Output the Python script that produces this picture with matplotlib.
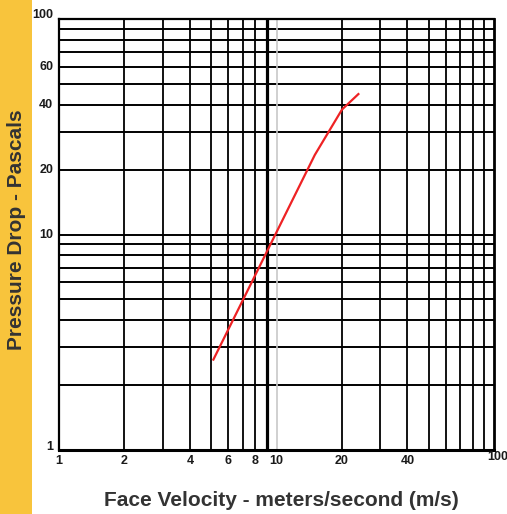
import matplotlib
matplotlib.use("Agg")
import matplotlib.pyplot as plt
from matplotlib.patches import Rectangle
import matplotlib.transforms as mtransforms

# Data
velocity = [5.1, 15.0, 20.0, 24.0]          # m/s
pressure = [2.6, 23.4, 38.0, 45.2]          # Pa

x_tick_vals = [1, 2, 4, 6, 8, 10, 20, 40, 100]
x_tick_labels = ["1", "2", "4", "6", "8", "10", "20", "40", "100"]
y_tick_vals = [1, 10, 20, 40, 60, 100]
y_tick_labels = ["1", "10", "20", "40", "60", "100"]

plt.rcParams['font.family'] = ['Liberation Sans', 'DejaVu Sans']

W, H = 507, 514
fig = plt.figure(figsize=(W / 100, H / 100), dpi=100)
fig.patch.set_facecolor('white')

# yellow side strip
fig.patches.append(Rectangle((0, 0), 32 / W, 1, transform=fig.transFigure,
                             facecolor='#F8C43C', edgecolor='none', zorder=0))

ax = fig.add_axes([59 / W, 1 - 450 / H, (494 - 59) / W, (450 - 19) / H])
ax.set_xscale('log')
ax.set_yscale('log')
ax.set_xlim(1, 100)
ax.set_ylim(1, 100)

# grid lines
for d in [1, 10]:
    for k in range(2, 10):
        v = k * d
        ax.axhline(v, color='black', lw=1.4, zorder=1)
        if d == 1 and k == 9:
            ax.axvline(v, color='black', lw=2.3, zorder=1)
        else:
            ax.axvline(v, color='black', lw=1.3, zorder=1)
ax.axvline(10, color='#c8c8c8', lw=1.2, zorder=1)
ax.axhline(10, color='black', lw=1.4, zorder=1)

for s in ax.spines.values():
    s.set_color('black')
    s.set_linewidth(1.6)
ax.spines['bottom'].set_linewidth(2.2)
ax.spines['right'].set_linewidth(2.0)

ax.plot(velocity, pressure, color='#EE2224', lw=1.6, zorder=3,
        solid_capstyle='butt')

ax.set_xticks([])
ax.set_yticks([])
ax.minorticks_off()
ax.tick_params(which='both', length=0, labelbottom=False, labelleft=False)

# x tick labels
for v, lab in zip(x_tick_vals, x_tick_labels):
    dy = 0
    dx = 0
    if lab == "100":
        dy = 4
        dx = 4
    trans = ax.get_xaxis_transform() + mtransforms.ScaledTranslation(dx / 100, (-11 + dy) / 100, fig.dpi_scale_trans)
    ax.text(v, 0, lab, transform=trans, ha='center', va='center',
            fontsize=9, fontweight='bold', color='#1a1a1a', clip_on=False)

# y tick labels
for v, lab in zip(y_tick_vals, y_tick_labels):
    dy = 0
    if lab == "100":
        dy = 4
    if lab == "1":
        dy = 3
    trans = ax.get_yaxis_transform() + mtransforms.ScaledTranslation(-6 / 100, dy / 100, fig.dpi_scale_trans)
    ax.text(0, v, lab, transform=trans, ha='right', va='center',
            fontsize=9, fontweight='bold', color='#1a1a1a', clip_on=False)

fig.text(281 / W, 1 - 500 / H, "Face Velocity - meters/second (m/s)",
         ha='center', va='center', fontsize=15, fontweight='bold', color='#333333')
fig.text(16.5 / W, 1 - 230 / H, "Pressure Drop - Pascals", rotation=90,
         ha='center', va='center', fontsize=15, fontweight='bold', color='#333333')

fig.savefig("out.png", dpi=100)
